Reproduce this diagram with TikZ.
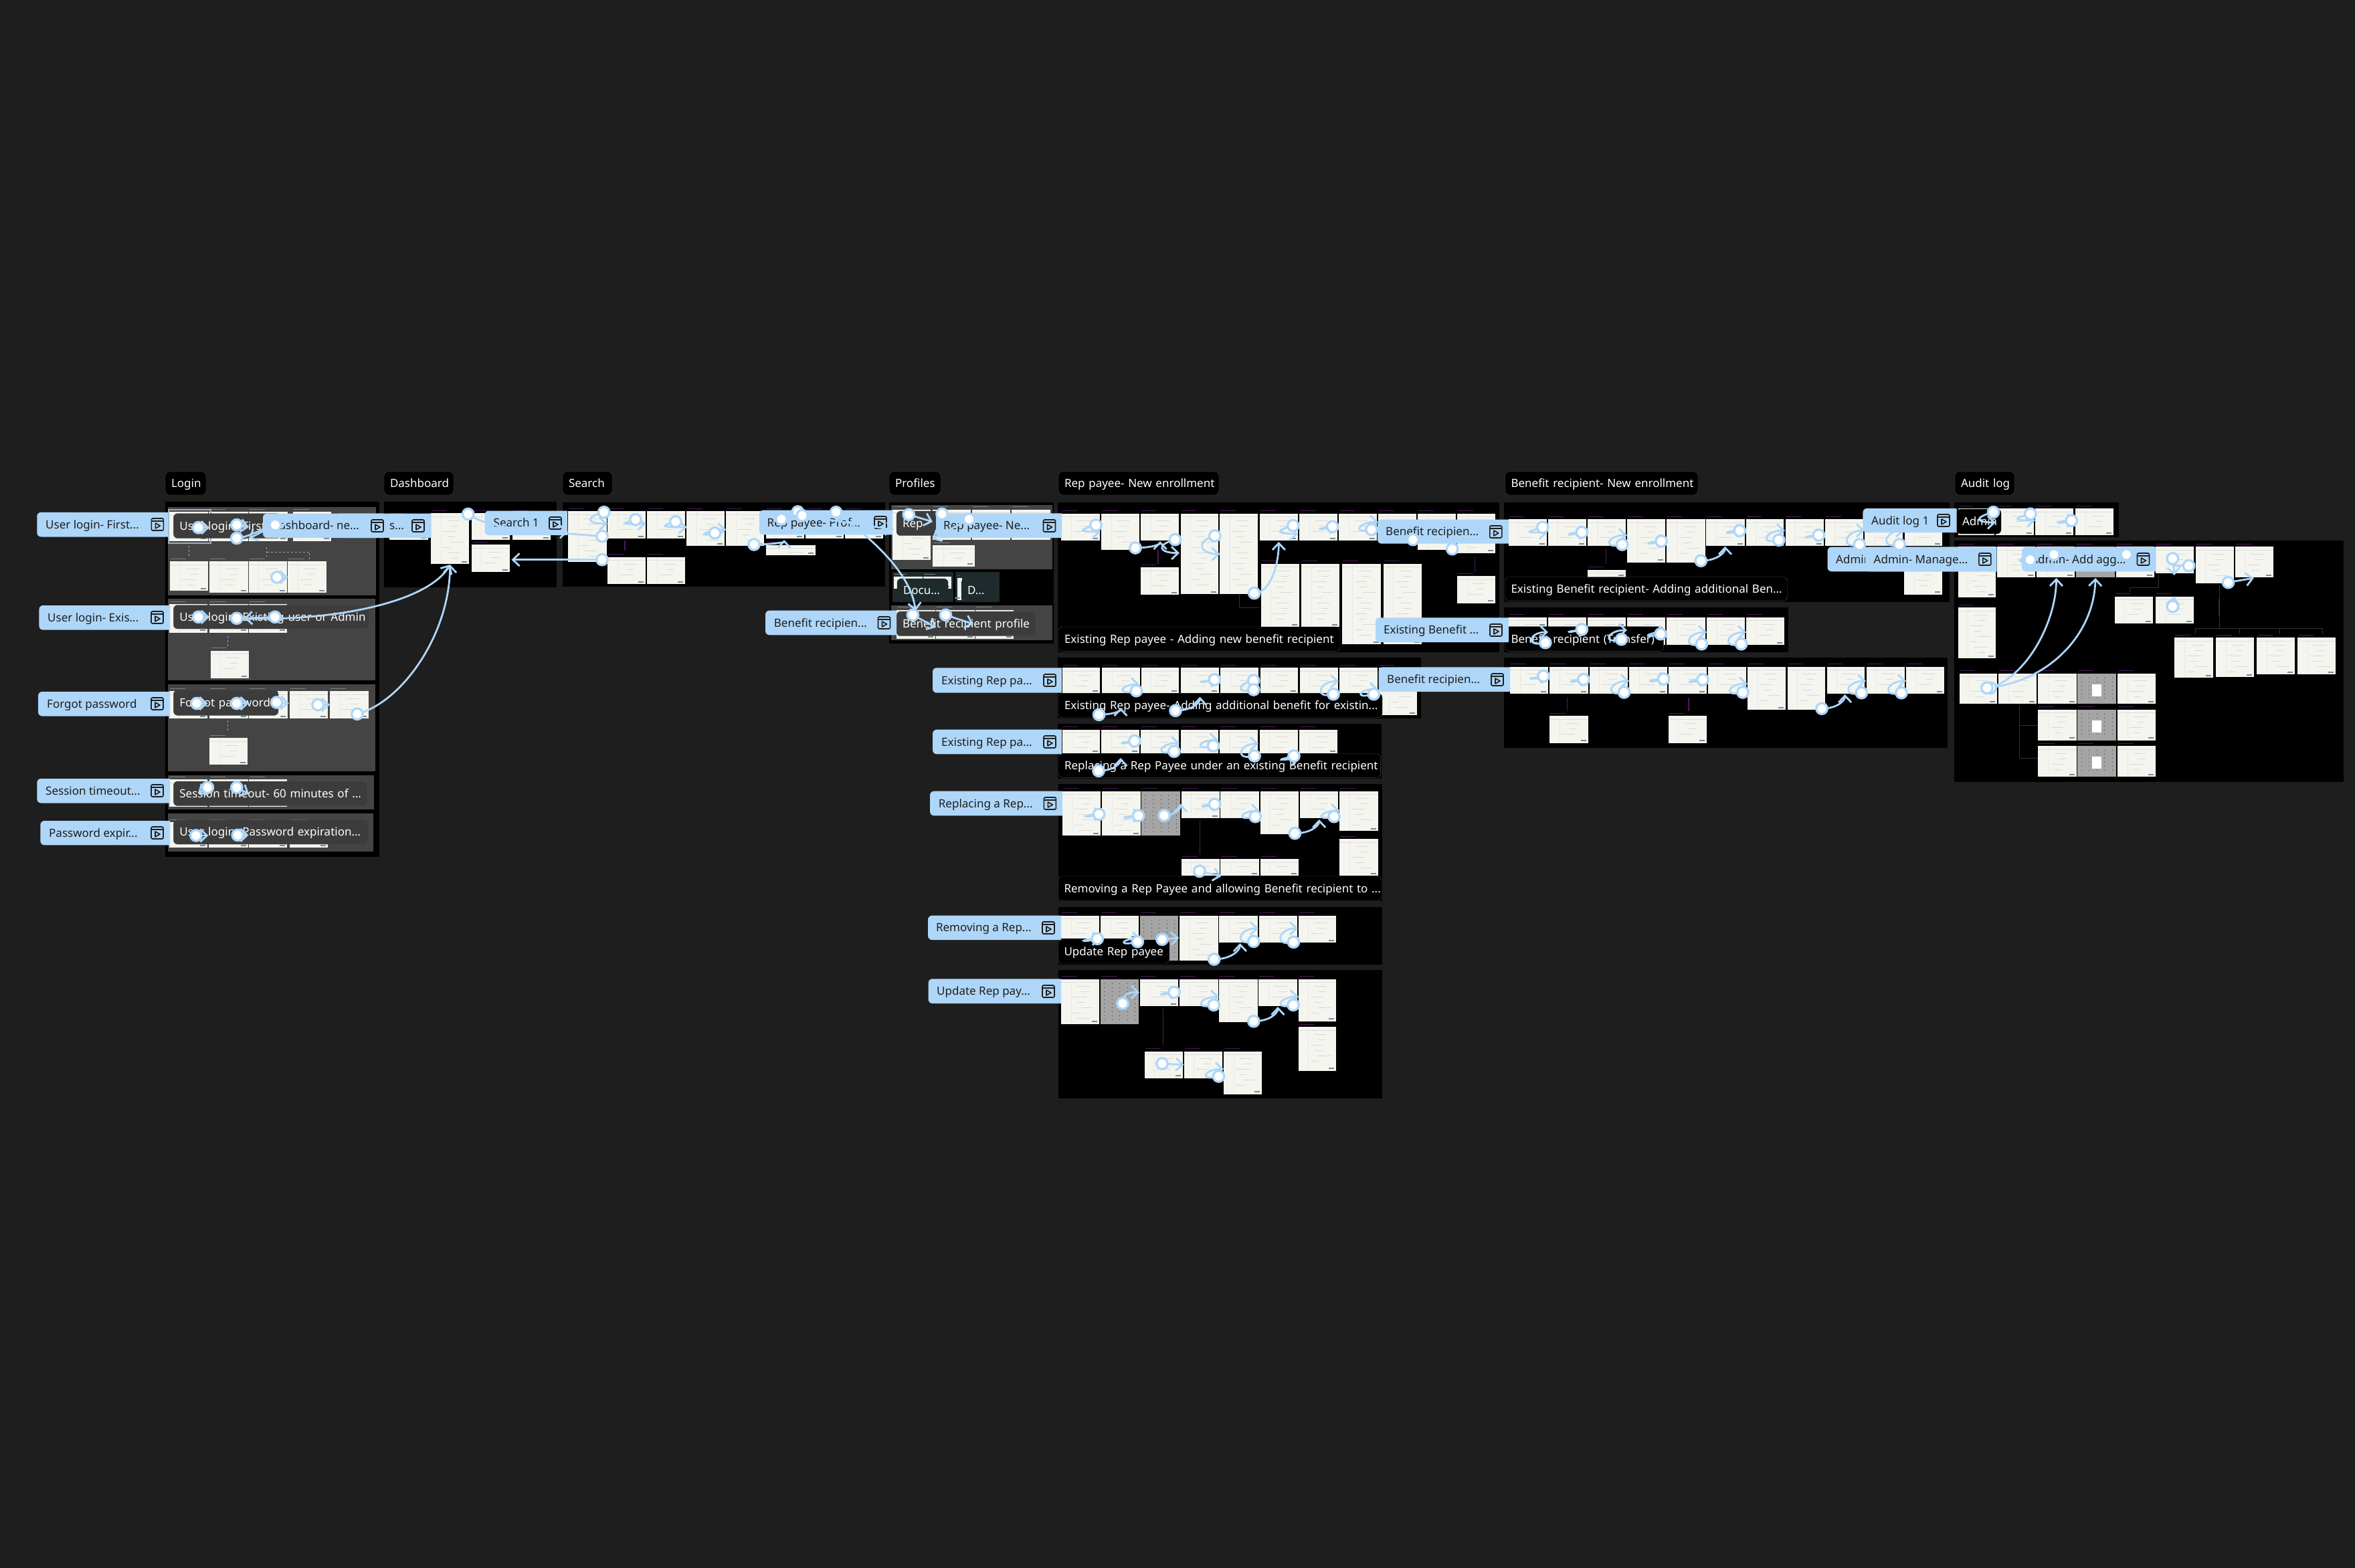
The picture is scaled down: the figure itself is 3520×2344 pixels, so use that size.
\documentclass[tikz,border=0pt]{standalone}
\usepackage{fontspec}
\setmainfont{Noto Sans}
\usetikzlibrary{arrows.meta,calc}
\pgfdeclarelayer{conn}\pgfdeclarelayer{hotl}
\pgfsetlayers{main,conn,hotl}
\definecolor{canvasbg}{HTML}{1E1E1E}
\definecolor{lblue}{HTML}{AED6F8}
\definecolor{scrfill}{HTML}{F4F5EF}
\definecolor{subgray}{HTML}{444444}
\definecolor{subteal}{HTML}{1F2A2C}
\definecolor{tagdark}{HTML}{3C3C3C}
\definecolor{scrgray}{HTML}{A5A5A5}
\definecolor{wirepurple}{HTML}{4B1A5C}
\definecolor{inktext}{HTML}{1E1E1E}
\definecolor{btncol}{HTML}{7A8A90}
\tikzset{
  x=1pt,y=-1pt,
  screen/.style={fill=scrfill,anchor=north west,inner sep=0,outer sep=0},
  greyscreen/.style={fill=scrgray,anchor=north west,inner sep=0,outer sep=0},
  framebox/.style={anchor=north west,inner sep=0,outer sep=0},
  titletag/.style={fill=black,draw=black!70!white,line width=.4pt,rounded corners=6pt,anchor=north west,
    inner sep=0,inner xsep=9pt,outer sep=0,text=white,font=\fontsize{17}{20}\selectfont,align=left,text height=14.5pt,text depth=2.5pt},
  darktag/.style={titletag,fill=tagdark,draw=gray!60!black},
  tealtag/.style={titletag,fill=subteal,draw=gray!30!black},
  lbltext/.style={anchor=west,inner sep=0,text=inktext,font=\fontsize{17}{20}\selectfont,text height=14.5pt,text depth=2.5pt},
  flow/.style={draw=lblue,line width=2.8pt,line cap=round,-{Straight Barb[length=10pt,width=19pt,line width=2.8pt]}},
  flowplain/.style={draw=lblue,line width=2.8pt,line cap=round},
  hot/.style={circle,fill=white,draw=lblue,line width=3.2pt,minimum size=16.5pt,inner sep=0,outer sep=0},
  icn/.style={draw=inktext,line width=1.6pt,line join=round},
  wire/.style={draw=gray!40!black,line width=1pt},
  wirep/.style={draw=wirepurple,line width=1.4pt},
  wirel/.style={draw=gray!70,line width=.8pt,dashed},
}
\newcounter{sc}\newcounter{fr}\newcounter{tg}\newcounter{lb}\newcounter{lk}
\def\capc{wirepurple}
\newcommand\rkDetail[4]{%
  \pgfmathsetmacro\rw{#3-#1}\pgfmathsetmacro\rh{#4-#2}%
  \pgfmathtruncatemacro\rn{max(1,(\rh-10)/8)}%
  \draw[color=\capc,line width=1pt] (#1+1,#2-4) -- ({#1+\rw*.42},#2-4);
  \draw[color=gray!18,line width=.5pt] ({#1+\rw*.26},#2+1) -- ({#1+\rw*.26},#4-1);
  \draw[color=gray!25,line width=.5pt] (#1,#2+5) -- (#3,#2+5);
  \foreach \k in {1,...,\rn}{%
    \pgfmathsetmacro\ly{#2+6+\k*8-3}%
    \pgfmathsetmacro\lx{#1+\rw*(.32+.1*mod(\k,3))}%
    \pgfmathsetmacro\lz{\lx+\rw*(.2+.14*mod(\k,2))}%
    \draw[color=gray!30,line width=.6pt] (\lx,\ly) -- (\lz,\ly);}
  \fill[btncol] (#3-11,#4-4.5) rectangle (#3-3,#4-2.5);
}
\newcommand\rkScr[4]{\stepcounter{sc}%
  \pgfmathsetmacro\rw{#3-#1}\pgfmathsetmacro\rh{#4-#2}%
  \node[screen,minimum width=\rw pt,minimum height=\rh pt] (s\thesc) at (#1,#2) {};
  \rkDetail{#1}{#2}{#3}{#4}}
\newcommand\rkGry[4]{\stepcounter{sc}%
  \pgfmathsetmacro\rw{#3-#1}\pgfmathsetmacro\rh{#4-#2}%
  \node[greyscreen,minimum width=\rw pt,minimum height=\rh pt] (s\thesc) at (#1,#2) {};
  \draw[color=\capc,line width=1pt] (#1+1,#2-4) -- ({#1+\rw*.42},#2-4);
  \foreach \q in {.1,.3,.5,.7,.9}{%
    \draw[color=gray!45!black,line width=.7pt,dash pattern=on 1pt off 5pt] ({#1+\rw*\q},#2+6) -- ({#1+\rw*\q},#4-4);}
}
\newcommand\rkFrm[5]{\stepcounter{fr}%
  \pgfmathsetmacro\rw{#4-#2}\pgfmathsetmacro\rh{#5-#3}%
  \node[framebox,fill=#1,minimum width=\rw pt,minimum height=\rh pt] (f\thefr) at (#2,#3) {};}
\newcommand\rkTag[6]{\stepcounter{tg}%
  \pgfmathsetmacro\rw{#4-#2-18}\pgfmathsetmacro\rh{#5-#3}%
  \node[#1,text width=\rw pt,minimum height=\rh pt] (g\thetg) at (#2,#3) {\mbox{#6}};}
\newcommand\rkIcon[2]{\begin{scope}[shift={(#1,#2)}]
  \draw[icn,rounded corners=1.5pt] (-9,-9) rectangle (9,9);
  \draw[icn] (-9,-5) -- (9,-5);
  \draw[icn] (-3,-2) -- (4,2) -- (-3,6) -- cycle;
\end{scope}}
\newcommand\rkLbl[6]{\stepcounter{lb}%
  \fill[lblue,rounded corners=6pt] (#3,#2) -- (#1,#2) -- (#1,#4) -- (#3,#4);
  \node[lbltext] (l\thelb) at (#6,{(#2+#4)/2}) {#5};}
\newcommand\rkHot[2]{\stepcounter{lk}\begin{pgfonlayer}{hotl}\node[hot] (h\thelk) at (#1,#2) {};\end{pgfonlayer}}
\newcommand\rkLoop[4]{\rkHot{#1}{#2}\coordinate (t\thelk) at (#3,#4);
  \begin{pgfonlayer}{conn}\draw[flow] (h\thelk.center) .. controls ($(h\thelk.center)+(-30,8)$) and ($(t\thelk)+(-30,0)$) .. (t\thelk);\end{pgfonlayer}}
\newcommand\rkUp[4]{\rkHot{#1}{#2}\coordinate (t\thelk) at (#3,#4);
  \begin{pgfonlayer}{conn}\draw[flow] (h\thelk.center) .. controls ($(h\thelk.center)!.65!(t\thelk|-h\thelk.center)$) and ($(t\thelk)!.45!(t\thelk|-h\thelk.center)$) .. (t\thelk);\end{pgfonlayer}}
\newcommand\rkStr[4]{\rkHot{#1}{#2}\coordinate (t\thelk) at (#3,#4);
  \begin{pgfonlayer}{conn}\draw[flow] (h\thelk.center) -- (t\thelk);\end{pgfonlayer}}
\newcommand\rkPlain[4]{\rkHot{#1}{#2}\coordinate (t\thelk) at (#3,#4);
  \begin{pgfonlayer}{conn}\draw[flowplain] (h\thelk.center) -- (t\thelk);\end{pgfonlayer}}
\newcommand\rkCur[8]{\rkHot{#1}{#2}\coordinate (t\thelk) at (#7,#8);
  \begin{pgfonlayer}{conn}\draw[flow] (h\thelk.center) .. controls (#3,#4) and (#5,#6) .. (t\thelk);\end{pgfonlayer}}
\begin{document}
\begin{tikzpicture}
\useasboundingbox (0,0) rectangle (3520,2344);
\fill[canvasbg] (0,0) rectangle (3520,2344);
% ---- section titles
\rkTag{titletag}{247}{705}{308}{740}{Login}
\rkTag{titletag}{574}{705}{678}{740}{Dashboard}
\rkTag{titletag}{841}{705}{915}{740}{Search}
\rkTag{titletag}{1329}{705}{1406}{740}{Profiles}
\rkTag{titletag}{1582}{705}{1822}{740}{Rep payee- New enrollment}
\rkTag{titletag}{2249.5}{705}{2538}{740}{Benefit recipient- New enrollment}
\rkTag{titletag}{2922}{705}{3011}{740}{Audit log}
% ---- black frames
\rkFrm{black}{246.6}{750.4}{566.5}{1281}
\rkFrm{black}{573.7}{750.4}{832}{877.6}
\rkFrm{black}{841.4}{750.7}{1322.5}{877.3}
\rkFrm{black}{1328.7}{750.7}{1575}{961.7}
\rkFrm{black}{1581.4}{750.7}{2240.8}{975}
\rkFrm{black}{1581.4}{983.3}{2123.8}{1074}
\rkFrm{black}{1581.4}{1082.3}{2065}{1164}
\rkFrm{black}{1581.5}{1172.3}{2065.8}{1347}
\rkFrm{black}{1581.5}{1355.7}{2065.8}{1441.7}
\rkFrm{black}{1581.5}{1450}{2065.8}{1641.7}
\rkFrm{black}{2248.4}{750.7}{2913.7}{900}
\rkFrm{black}{2248.4}{908.3}{2673.2}{975}
\rkFrm{black}{2248.4}{983.3}{2911.4}{1117.7}
\rkFrm{black}{2921.4}{750.7}{3167.3}{803.3}
\rkFrm{black}{2921.4}{807.7}{3503.3}{1169}
% ---- grey and teal sub-frames
\rkFrm{subgray}{250.7}{758}{562.4}{889.5}
\rkFrm{subgray}{250.7}{895.4}{561.4}{1017}
\rkFrm{subgray}{250.7}{1023}{561.4}{1153}
\rkFrm{subgray}{250.7}{1159}{559.4}{1210.4}
\rkFrm{subgray}{250.7}{1216}{558.4}{1273}
\rkFrm{subgray}{1332}{755}{1572.6}{850.7}
\rkFrm{subteal}{1333.8}{855}{1425}{900}
\rkFrm{subteal}{1428}{855}{1493.5}{900}
\rkFrm{subgray}{1332}{905}{1572.6}{957.3}
% ---- connectors between screens that are not prototype links
\draw[wirel] (282.3,816) -- (282.3,832);
\draw[wirel] (398.7,818) -- (398.7,832);
\draw[wirel] (398.7,825) -- (462.5,825) -- (462.5,837);
\draw[wirel] (340.5,951) -- (340.5,966.5);
\draw[wirel] (340.5,1077) -- (340.5,1093);
\draw[wirep] (933.8,808) -- (933.8,823);
\draw[wirep] (1731,821.7) -- (1731,843);
\draw[wire] (1852.4,889) -- (1852.4,908) -- (1882.3,908);
\draw[wirep] (2204.2,833) -- (2204.2,855);
\draw[wire] (1793.8,1226.7) -- (1793.8,1276.7);
\draw[wire] (1738.6,1508) -- (1738.6,1561.7);
\draw[wirep] (2400.5,820) -- (2400.5,843);
\draw[wirep] (2342.5,1043) -- (2342.5,1063);
\draw[wirep] (2524,1043) -- (2524,1063);
\draw[wire] (3226,860) -- (3226,878.3) -- (3183.4,878.3) -- (3183.4,885);
\draw[wire] (3317,875) -- (3317,939.3);
\draw[wirep] (3317,895) -- (3317,920);
\draw[wire] (3281.6,948) -- (3281.6,939.3) -- (3471.6,939.3) -- (3471.6,948);
\draw[wire] (3347,939.3) -- (3347,948);
\draw[wire] (3407,939.3) -- (3407,948);
\draw[wire] (3018.2,1055) -- (3018.2,1133.3) -- (3046.4,1133.3);
\draw[wire] (3018.2,1084.3) -- (3046.4,1084.3);
% ---- Login screens
\def\capc{gray}
\rkScr{253}{765}{311.4}{808.5}\rkScr{312.4}{765}{370.6}{808.5}\rkScr{371.6}{765}{429.8}{808.5}\rkScr{438}{765}{495}{808.5}
\rkScr{254}{839}{311.4}{883}\rkScr{313}{839}{370.6}{886}\rkScr{371.6}{839}{429}{886}\rkScr{430.3}{839}{488}{886}
\rkScr{253}{903}{310.4}{945.6}\rkScr{313}{903}{370.6}{945.6}\rkScr{371.6}{903}{428.8}{945.6}
\rkScr{314.5}{972.5}{371.6}{1014}
\rkScr{253}{1033}{310.4}{1074}\rkScr{313}{1033}{370.6}{1074}\rkScr{371.6}{1033}{430.3}{1074}\rkScr{432.9}{1033}{490}{1074}\rkScr{493}{1033}{550.7}{1074}
\rkScr{313}{1103}{370}{1143}
\rkScr{253}{1165}{310.4}{1205.7}\rkScr{313}{1165}{370.6}{1205.7}\rkScr{371.6}{1165}{428.8}{1205.7}
\rkScr{253}{1229.4}{310.4}{1267.4}\rkScr{312.4}{1229.4}{370.6}{1267.4}\rkScr{371.6}{1229.4}{428.8}{1267.4}\rkScr{432.9}{1229.4}{490}{1267.4}
% ---- Dashboard, Search
\def\capc{wirepurple}
\rkScr{581.8}{771}{639.5}{807}\rkScr{644}{767}{701}{843}\rkScr{704.8}{767}{762}{807}\rkScr{766}{767}{823}{807}\rkScr{704.8}{814.4}{762}{855}
\rkScr{849}{764}{906.7}{840}\rkScr{907.8}{764}{965.4}{805}\rkScr{967}{764}{1024}{805}\rkScr{1026}{764}{1083}{816.3}\rkScr{1085}{764}{1142.4}{816.3}
\rkScr{1144.5}{764}{1201.6}{805}\rkScr{1203.7}{764}{1260.8}{805}\rkScr{1262.9}{764}{1320}{805}
\rkScr{907.8}{832.7}{965.4}{873.3}\rkScr{967}{832.7}{1024}{873.3}\rkScr{1144.5}{814.7}{1219}{830}
% ---- Profiles
\def\capc{gray}
\rkScr{1334}{761.7}{1391.4}{837}\rkScr{1393.5}{761.7}{1450.6}{806.7}\rkScr{1452.7}{761.7}{1510}{806.7}\rkScr{1512.4}{761.7}{1570}{806.7}
\rkScr{1393.5}{815}{1456.7}{846.7}
\rkScr{1336}{862}{1378.6}{880}\rkScr{1380}{862}{1422}{880}\rkScr{1430.7}{864}{1438}{897}
\rkScr{1340}{911.7}{1397.5}{955}\rkScr{1399}{911.7}{1456.7}{955}\rkScr{1458}{911.7}{1515}{955}
% ---- Rep payee 1
\def\capc{wirepurple}
\rkScr{1586}{767.7}{1644}{808.3}\rkScr{1646}{767.7}{1703}{821.7}\rkScr{1705}{767.7}{1762}{808.3}\rkScr{1764.5}{767.7}{1821}{888}\rkScr{1823.4}{767.7}{1880}{888}
\rkScr{1882.8}{767.7}{1939.5}{808.3}\rkScr{1942}{767.7}{1999}{808.3}\rkScr{2001}{767.7}{2058}{808.3}\rkScr{2060}{767.7}{2116.7}{808.3}\rkScr{2119}{767.7}{2176}{822}\rkScr{2178}{767.7}{2235}{826.7}
\rkScr{1705}{848.3}{1762}{889}\rkScr{2178}{861}{2235}{901.7}
\rkScr{1884.5}{842.7}{1941.7}{937}\rkScr{1945}{842.7}{2002}{937}\rkScr{2006.4}{842.7}{2063.6}{963}\rkScr{2067.6}{842.7}{2124.7}{963}
% ---- Rep payee 2
\rkScr{1587.5}{998.3}{1644}{1036}\rkScr{1647}{998.3}{1703.7}{1036}\rkScr{1706}{998.3}{1762}{1036}\rkScr{1764.5}{998.3}{1822}{1036}\rkScr{1824}{998.3}{1881}{1036}\rkScr{1883.7}{998.3}{1940.4}{1036}\rkScr{1942.6}{998.3}{1999.7}{1036}\rkScr{2002}{998.3}{2058.7}{1036}
\rkScr{2061.3}{998.3}{2118}{1069}
% ---- Rep payee 3
\rkScr{1587.5}{1090.7}{1644}{1126}\rkScr{1646}{1090.7}{1703}{1126}\rkScr{1705}{1090.7}{1762}{1126}\rkScr{1764.5}{1090.7}{1821}{1126}\rkScr{1823.4}{1090.7}{1880}{1126}\rkScr{1882.8}{1090.7}{1939.5}{1126}\rkScr{1942}{1090.7}{1999}{1126}
% ---- Rep payee 4
\rkScr{1587.8}{1182.7}{1645}{1249}\rkScr{1647}{1182.7}{1704.6}{1249}\rkGry{1706}{1182.7}{1763.8}{1249}
\rkScr{1765.7}{1182.7}{1823}{1223.3}\rkScr{1824.4}{1182.7}{1882}{1223.3}\rkScr{1883.5}{1182.7}{1941}{1247.3}\rkScr{1943}{1182.7}{2000}{1223.3}\rkScr{2002.3}{1182.7}{2059.5}{1242.3}
\rkScr{1765.7}{1284}{1823}{1309.3}\rkScr{1824.4}{1284}{1882}{1309.3}\rkScr{1883.5}{1284}{1941}{1309.3}\rkScr{2002.3}{1254.3}{2059.5}{1309.3}
% ---- Rep payee 5
\rkScr{1586}{1368.7}{1643}{1403.3}\rkScr{1645}{1368.7}{1702}{1403.3}\rkGry{1704}{1368.7}{1761}{1435.7}
\rkScr{1763.3}{1368.7}{1820.5}{1435.7}\rkScr{1822}{1368.7}{1879.6}{1409}\rkScr{1882}{1368.7}{1939}{1409}\rkScr{1941}{1368.7}{1997.4}{1409}
% ---- Rep payee 6
\rkScr{1586}{1463.7}{1643}{1530.7}\rkGry{1645}{1463.7}{1702}{1530.7}\rkScr{1704}{1463.7}{1761}{1504}\rkScr{1763}{1463.7}{1820.5}{1504}\rkScr{1822}{1463.7}{1879.6}{1528.3}\rkScr{1881}{1463.7}{1939}{1504}\rkScr{1941}{1463.7}{1997.4}{1526.7}
\rkScr{1941}{1535}{1997.4}{1600.7}\rkScr{1710.5}{1571.7}{1768}{1611.7}\rkScr{1769.6}{1571.7}{1826.8}{1611.7}\rkScr{1829}{1571.7}{1886}{1635.7}
% ---- Benefit recipient 1
\rkScr{2255}{776}{2311.5}{816}\rkScr{2313.8}{776}{2371}{816}\rkScr{2373}{776}{2430}{816}\rkScr{2432}{776}{2489}{840.7}\rkScr{2491}{776}{2548.6}{840.7}\rkScr{2550}{776}{2607.7}{816}\rkScr{2609.5}{776}{2666.3}{816}\rkScr{2668.6}{776}{2726}{816}\rkScr{2727.7}{776}{2785}{816}\rkScr{2787.4}{776}{2843.7}{816}\rkScr{2846.6}{776}{2903.4}{816}
\rkScr{2373}{851.7}{2430}{863}\rkScr{2846}{840}{2903}{888.7}
% ---- Benefit recipient 2
\rkScr{2255}{922.7}{2311.5}{937}\rkScr{2313.8}{922.7}{2371}{937}\rkScr{2373}{922.7}{2430}{937}\rkScr{2432}{922.7}{2489}{964.3}\rkScr{2491}{922.7}{2548.6}{964.3}\rkScr{2551}{922.7}{2607.7}{964.3}\rkScr{2610}{922.7}{2667}{964.3}
% ---- Benefit recipient 3
\rkScr{2257}{996.7}{2313.8}{1037.3}\rkScr{2316}{996.7}{2373.5}{1037.3}\rkScr{2375.8}{996.7}{2432.7}{1037.3}\rkScr{2435}{996.7}{2491.8}{1037.3}\rkScr{2493.5}{996.7}{2551}{1037.3}\rkScr{2552.6}{996.7}{2610}{1037.3}\rkScr{2612.3}{996.7}{2669}{1061}\rkScr{2671.5}{996.7}{2728.3}{1061}\rkScr{2730.6}{996.7}{2787.4}{1037.3}\rkScr{2789.7}{996.7}{2846.6}{1037.3}\rkScr{2849}{996.7}{2905.7}{1037.3}
\rkScr{2316}{1070}{2373.5}{1110.7}\rkScr{2493.5}{1070}{2551}{1110.7}
% ---- Audit log 1
\rkScr{2926.5}{760}{2981}{800}\rkScr{2983.4}{760}{3040.3}{800}\rkScr{3042.3}{760}{3099.3}{800}\rkScr{3101.8}{760}{3159.2}{800}
% ---- Audit log 2
\rkScr{2926.5}{817.3}{2983.4}{892.7}\rkScr{2985.4}{817.3}{3042.3}{863.3}\rkScr{3044.4}{817.3}{3101.3}{863.3}\rkGry{3103.3}{817.3}{3160.7}{863.3}\rkScr{3162.7}{817.3}{3220}{863.3}\rkScr{3222}{817.3}{3279}{857.3}\rkScr{3281.6}{817.3}{3338.6}{872}\rkScr{3341}{817.3}{3397.5}{863.3}
\rkScr{2926.5}{908.3}{2983.4}{984.3}
\rkScr{3160.7}{891.7}{3217.7}{932.3}\rkScr{3222}{891.7}{3279}{932.3}
\rkScr{3250.4}{953.3}{3308}{1013.3}\rkScr{3312}{953.3}{3369}{1012}\rkScr{3373}{953.3}{3430}{1008.3}\rkScr{3434}{953.3}{3491}{1008.3}
\rkScr{2928.5}{1006.7}{2985.4}{1052.3}\rkScr{2987.4}{1006.7}{3044.4}{1052.3}\rkScr{3046.4}{1006.7}{3103.8}{1052.3}\rkGry{3105.3}{1006.7}{3162.7}{1052.3}\rkScr{3164.8}{1006.7}{3222.2}{1052.3}
\rkScr{3046.4}{1060.7}{3103.8}{1106.7}\rkGry{3105.3}{1060.7}{3162.7}{1106.7}\rkScr{3164.8}{1060.7}{3222.2}{1106.7}
\rkScr{3046.4}{1115}{3103.8}{1161}\rkGry{3105.3}{1115}{3162.7}{1161}\rkScr{3164.8}{1115}{3222.2}{1161}
\fill[white] (3127,1022.7) rectangle (3141,1041);
\fill[white] (3127,1076.7) rectangle (3141,1095);
\fill[white] (3127,1131) rectangle (3141,1149);
% ---- selection outline
\draw[color=lblue!55!gray,line width=2pt] (251.7,762) rectangle (314.5,811.6);
% ---- flow name tags
\rkTag{darktag}{259.4}{767.7}{420}{804.5}{User login- First ...}
\rkTag{darktag}{259.4}{904.5}{551.7}{940}{User login- Existing user or Admin}
\rkTag{darktag}{259.4}{1031.8}{416}{1069.3}{Forgot password}
\rkTag{darktag}{259.4}{1168}{549}{1204.5}{Session timeout- 60 minutes of ...}
\rkTag{darktag}{259.4}{1225.5}{550}{1262}{User login- Password expiration...}
\rkTag{darktag}{1340}{764}{1410}{800.7}{Rep}
\rkTag{tealtag}{1341}{865}{1417}{900}{Docu...}
\rkTag{tealtag}{1437}{865}{1493.5}{900}{D...}
\rkTag{darktag}{1340}{914}{1548.6}{950.7}{Benefit recipient profile}
\rkTag{titletag}{1582}{937}{2003}{973.3}{Existing Rep payee - Adding new benefit recipient}
\rkTag{titletag}{1582}{1036.7}{2066}{1072.7}{Existing Rep payee- Adding additional benefit for existin...}
\rkTag{titletag}{1582}{1126.7}{2063.6}{1162.3}{Replacing a Rep Payee under an existing Benefit recipient}
\rkTag{titletag}{1581.5}{1310}{2065}{1346.7}{Removing a Rep Payee and allowing Benefit recipient to ...}
\rkTag{titletag}{1581.5}{1405}{1747.8}{1440}{Update Rep payee}
\rkTag{titletag}{2249.5}{862.7}{2671.5}{898.3}{Existing Benefit recipient- Adding additional Ben...}
\rkTag{titletag}{2249.5}{936.7}{2486.6}{973.3}{Benefit recipient (Transfer)}
\rkTag{titletag}{2924}{761}{2991}{798}{Admin}
% ---- prototype flow labels
\rkLbl{55.3}{765.8}{251.7}{802.5}{User login- First...}{68}\rkIcon{235.4}{784}
\rkLbl{58.4}{905}{254}{941.7}{User login- Exis...}{71}\rkIcon{235}{923}
\rkLbl{57}{1034}{254}{1070.5}{Forgot password}{70}\rkIcon{235}{1052}
\rkLbl{55.3}{1164}{254}{1200.5}{Session timeout...}{68}\rkIcon{235}{1182}
\rkLbl{60.4}{1227}{254}{1263.4}{Password expir...}{73}\rkIcon{235}{1245}
\rkLbl{500}{767.7}{644.6}{804}{s...}{582}\rkIcon{625}{786}
\rkLbl{393}{767.7}{573}{804}{Dashboard- ne...}{405}\rkIcon{564}{786}
\rkLbl{724.7}{763.5}{848}{800}{Search 1}{737.5}\rkIcon{830}{782}
\rkLbl{1134.8}{762.7}{1334}{799.3}{Rep payee- Prof...}{1146.5}\rkIcon{1316}{781}
\rkLbl{1399}{767.3}{1587}{804}{Rep payee- Ne...}{1410}\rkIcon{1568.5}{786}
\rkLbl{1144}{912.7}{1340}{949.3}{Benefit recipien...}{1156.7}\rkIcon{1321.5}{931}
\rkLbl{1394}{998.3}{1587}{1035.7}{Existing Rep pa...}{1407}\rkIcon{1569}{1017}
\rkLbl{1394}{1090.7}{1587}{1127.3}{Existing Rep pa...}{1407}\rkIcon{1569}{1109}
\rkLbl{1390}{1182.7}{1587.8}{1219.3}{Replacing a Rep...}{1402.7}\rkIcon{1569.4}{1201}
\rkLbl{1387}{1368.7}{1586}{1405}{Removing a Rep...}{1398.8}\rkIcon{1567}{1387}
\rkLbl{1387.6}{1463.3}{1586}{1500}{Update Rep pay...}{1400}\rkIcon{1567}{1482}
\rkLbl{2059}{776.7}{2255}{812.7}{Benefit recipien...}{2071}\rkIcon{2235.8}{795}
\rkLbl{2056}{923.3}{2255}{960}{Existing Benefit ...}{2068}\rkIcon{2236}{942}
\rkLbl{2060.7}{997.3}{2257}{1034}{Benefit recipien...}{2073}\rkIcon{2238}{1016}
\rkLbl{2784.4}{760}{2924.5}{796}{Audit log 1}{2797}\rkIcon{2905}{778}
\rkLbl{2731.5}{817.7}{2984.4}{854.3}{Admin}{2744}
\rkLbl{2788}{817.7}{2984.4}{854.3}{Admin- Manage...}{2800.5}\rkIcon{2966.8}{836}
\rkLbl{3022}{817.7}{3222.7}{854.3}{Admin- Add agg...}{3035}\rkIcon{3203.5}{836}
% ---- Login links
\rkStr{296.6}{788.7}{313}{788.7}
\rkStr{353.8}{784.7}{372}{788}
\rkCur{353.8}{804.5}{375}{803}{400}{785}{430}{778}
\rkStr{411.4}{784.7}{372}{805}
\rkStr{414}{863}{430.3}{863}
\rkStr{296.6}{922.3}{313}{922.3}
\rkCur{353.8}{924.3}{500}{930}{640}{900}{672.7}{844}
\rkStr{411}{922.3}{365}{924.3}
\rkStr{294}{1051.5}{310.4}{1051.5}
\rkStr{353.8}{1051.5}{371.6}{1051.5}
\rkStr{413.5}{1050}{431.8}{1051.5}
\rkStr{475.2}{1053.5}{493}{1053.5}
\rkCur{533.9}{1067.3}{600}{1050}{672}{950}{672.7}{844}
\rkStr{310.4}{1177.2}{296}{1186}
\rkStr{353.8}{1177.2}{372}{1187}
\rkStr{293}{1249}{311.4}{1249}
\rkStr{355.3}{1248.4}{371.6}{1248.4}
% ---- Dashboard and Search links
\rkCur{699.7}{768.5}{730}{790}{800}{795}{849}{795}
\rkLoop{902.7}{765.7}{907.8}{783}
\rkPlain{900}{801.7}{840}{797}
\rkStr{900}{836.7}{764.5}{836.7}
\rkLoop{950}{776.7}{965.4}{783}
\rkLoop{1009.8}{780}{1026.6}{788}
\rkLoop{1068.5}{796.7}{1085.3}{791.7}
\rkUp{1127}{814}{1172}{807}
% ---- Profile links
\rkHot{1168}{776}
\rkHot{1192.4}{765}
\rkStr{1199}{770.7}{1336}{792}
\rkCur{1249.6}{765.7}{1310}{810}{1362}{860}{1368.4}{913.3}
\rkStr{1358.3}{769.3}{1394}{780}
\rkHot{1408}{768.3}
\rkStr{1448.6}{776}{1393.5}{806}
\rkStr{1364.4}{919.3}{1399}{938}
\rkStr{1413.4}{919.3}{1455}{933}
% ---- Rep payee links
\rkLoop{1638}{785}{1645}{795}
\rkUp{1697}{819}{1734}{809}
\rkLoop{1756.4}{806.7}{1763}{826.7}
\rkLoop{1815.8}{801}{1823.4}{828.3}
\rkUp{1874.7}{886.7}{1911.3}{810}
\rkLoop{1932.8}{785.7}{1940}{798}
\rkLoop{1991.7}{787.3}{2000}{788}
\rkLoop{2050}{791.7}{2060}{780}
\rkHot{2112}{806.7}
\rkHot{2170.7}{820.7}
\rkLoop{1698.4}{1032.7}{1703}{1023}
\rkLoop{1815.4}{1016}{1822}{1017}
\rkHot{1873.8}{1017.3}
\rkLoop{1873.8}{1031}{1881}{1018}
\rkLoop{1993}{1037.7}{2001}{1018.3}
\rkLoop{2053.3}{1037.7}{2060}{1030}
\rkUp{1642.6}{1068.3}{1675}{1058}
\rkUp{1757}{1062.3}{1793.5}{1041.7}
\rkLoop{1696}{1107.7}{1704}{1108}
\rkLoop{1755}{1123.3}{1763}{1110.7}
\rkLoop{1813.6}{1115}{1821}{1106}
\rkLoop{1875}{1130}{1881}{1111.7}
\rkLoop{1934}{1130}{1942}{1135}
\rkUp{1642}{1152.3}{1675}{1133}
\rkLoop{1642.6}{1217.3}{1648}{1217.3}
\rkLoop{1701.7}{1219.3}{1706}{1219.3}
\rkUp{1740}{1219}{1764.7}{1201.7}
\rkLoop{1815.6}{1202.3}{1824}{1202.3}
\rkLoop{1876.2}{1220.7}{1883}{1212}
\rkUp{1935.4}{1245.7}{1971.7}{1225}
\rkLoop{1994}{1220.7}{2002.3}{1211.7}
\rkStr{1792.9}{1302.3}{1825.3}{1310}
\rkLoop{1640.2}{1403.3}{1645}{1403.3}
\rkLoop{1700.3}{1407.7}{1705}{1403}
\rkStr{1737}{1404.3}{1762.3}{1401.7}
\rkLoop{1873.8}{1407.3}{1881}{1387.7}
\rkUp{1814.7}{1434}{1853.5}{1410}
\rkLoop{1933.4}{1408.3}{1940}{1387.7}
\rkCur{1678}{1500}{1678}{1485}{1690}{1483}{1703}{1483.3}
\rkLoop{1755}{1483.3}{1762}{1483.3}
\rkLoop{1814.2}{1502.3}{1822}{1490}
\rkUp{1873.8}{1526.7}{1910}{1505}
\rkLoop{1933}{1502.3}{1941}{1490}
\rkStr{1737}{1590}{1769.6}{1591.7}
\rkLoop{1821.5}{1609}{1829}{1598}
% ---- Benefit recipient links
\rkLoop{2305.8}{788.3}{2313}{796}
\rkLoop{2364.3}{795.7}{2372}{796}
\rkLoop{2424.6}{814}{2432}{800}
\rkLoop{2483}{809}{2491}{809}
\rkUp{2542.3}{838.3}{2578.5}{816.7}
\rkLoop{2600.3}{793.3}{2608}{793}
\rkLoop{2658.8}{807.3}{2668}{793}
\rkLoop{2718.5}{800}{2726}{800}
\rkLoop{2779.4}{814}{2787}{793}
\rkLoop{2839}{814}{2846}{793}
\rkLoop{2309.8}{960.7}{2314}{945}
\rkLoop{2364.3}{941}{2372}{942}
\rkLoop{2423.5}{955.7}{2432}{942}
\rkLoop{2482}{947.7}{2491}{945}
\rkLoop{2543.4}{962.7}{2551}{945}
\rkLoop{2602.6}{962.7}{2610}{945}
\rkLoop{2307}{1010.7}{2315}{1012}
\rkLoop{2367}{1015.7}{2375}{1016}
\rkLoop{2427.5}{1035}{2435}{1018}
\rkLoop{2486.6}{1015}{2493}{1015}
\rkLoop{2545}{1016}{2552}{1016}
\rkLoop{2604.9}{1035}{2612}{1022}
\rkUp{2723}{1059.3}{2757.6}{1038}
\rkLoop{2782.3}{1035.7}{2789}{1018}
\rkLoop{2842}{1035.7}{2849}{1018}
% ---- Audit log links
\rkLoop{2979.4}{765.7}{2983}{781}
\rkLoop{3034.8}{768.3}{3042}{778}
\rkLoop{3096.2}{778.3}{3102}{778}
\rkStr{3034.3}{836.7}{3017}{838}
\rkHot{3070}{829}
\rkHot{3178.4}{829}
\rkStr{3247.4}{835}{3250}{860}
\rkStr{3247.4}{906.7}{3250}{891.7}
\rkPlain{3271.6}{845.7}{3250}{845.7}
\rkStr{3330.5}{870.7}{3368.8}{864}
\rkCur{2975.3}{1028.3}{3030}{1010}{3073}{930}{3073.6}{864}
\rkCur{2970}{1028.3}{3060}{1020}{3130}{950}{3132}{864}
\end{tikzpicture}
\end{document}
